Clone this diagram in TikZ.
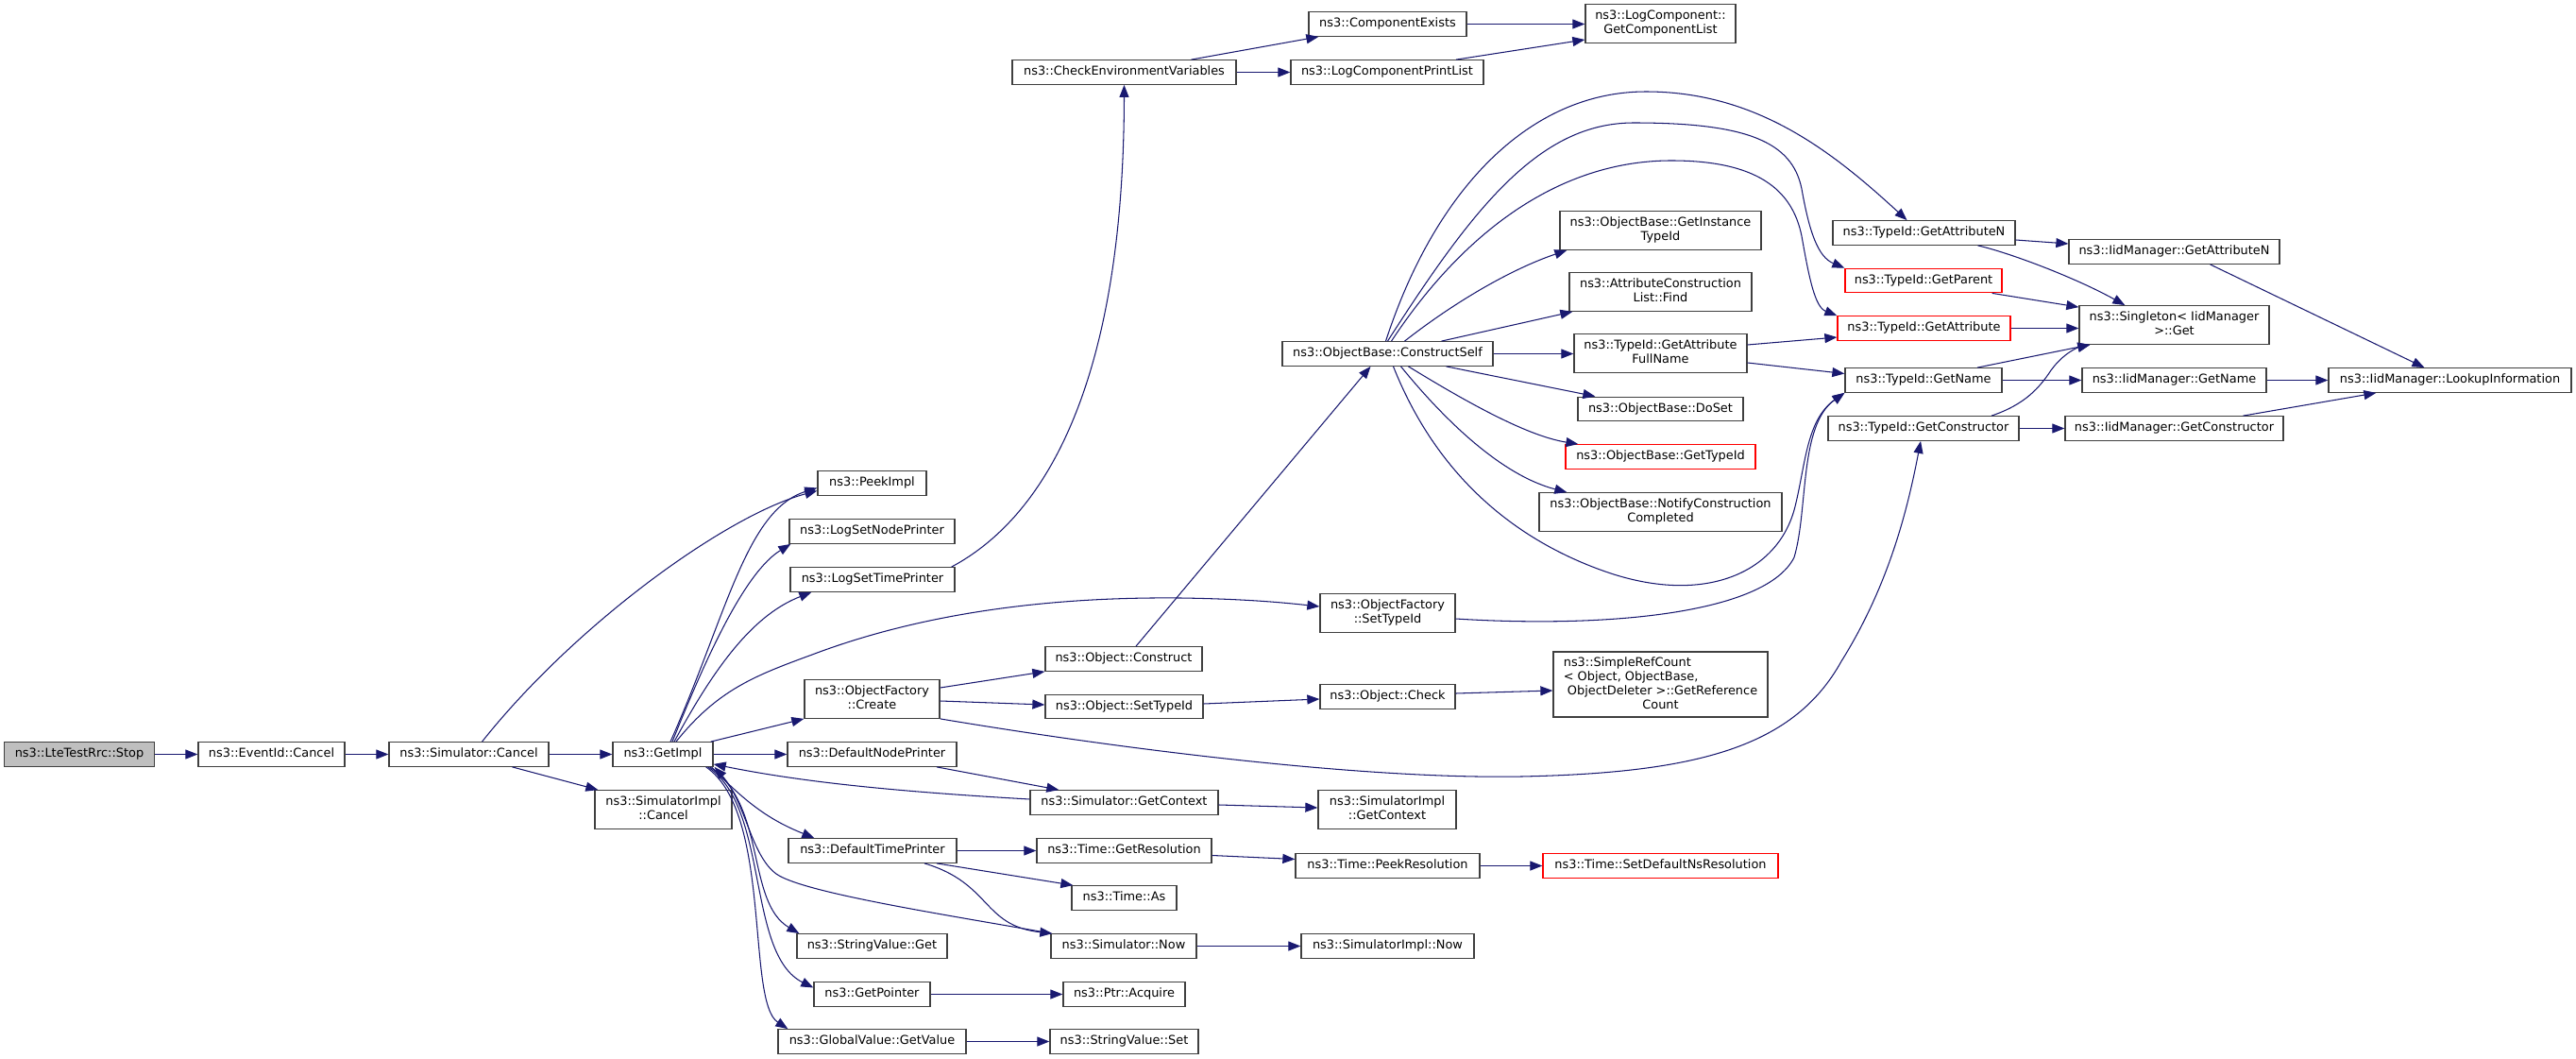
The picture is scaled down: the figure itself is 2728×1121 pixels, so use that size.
\documentclass[tikz,border=0pt]{standalone}
\usepackage{fontspec}
\setmainfont{DejaVu Sans}
\usetikzlibrary{arrows.meta}
\definecolor{edgec}{HTML}{191970}
\definecolor{boxc}{HTML}{404040}
\definecolor{stopfill}{HTML}{BFBFBF}
\begin{document}
\begin{tikzpicture}[x=1pt,y=-1pt,
  box/.style={draw=boxc, line width=1.3pt, fill=white, inner sep=0pt, minimum height=25.5pt, align=center,
    font={\fontsize{12.9pt}{15pt}\selectfont}, execute at begin node={\strut}, execute at end node={\strut}},
  tall/.style={minimum height=40.5pt},
  redbox/.style={draw=red},
  edge/.style={draw=edgec, line width=1.05pt, -{Triangle[length=13pt,width=10pt]}}]
\fill[white] (0,0) rectangle (2728,1121);
\useasboundingbox (0,0) rectangle (2728,1121);
% nodes
\node[box, minimum width=159pt, fill=stopfill] (stop) at (84,798.5) {ns3::LteTestRrc::Stop};
\node[box, minimum width=155pt] (evcancel) at (287.5,798.5) {ns3::EventId::Cancel};
\node[box, minimum width=169pt] (simcancel) at (496.5,798.5) {ns3::Simulator::Cancel};
\node[box, minimum width=106pt] (getimpl) at (702,798.5) {ns3::GetImpl};
\node[box, tall, minimum width=145pt] (simimplcancel) at (702.5,857) {ns3::SimulatorImpl\\::Cancel};
\node[box, minimum width=115pt] (peekimpl) at (923.5,511.5) {ns3::PeekImpl};
\node[box, minimum width=175pt] (logsetnode) at (923.5,562.5) {ns3::LogSetNodePrinter};
\node[box, minimum width=174pt] (logsettime) at (924,613.5) {ns3::LogSetTimePrinter};
\node[box, tall, minimum width=143pt] (ofcreate) at (923.5,740) {ns3::ObjectFactory\\::Create};
\node[box, minimum width=179pt] (defnode) at (923.5,798.5) {ns3::DefaultNodePrinter};
\node[box, minimum width=178pt] (deftime) at (924,900.5) {ns3::DefaultTimePrinter};
\node[box, minimum width=159pt] (svget) at (923.5,1001.5) {ns3::StringValue::Get};
\node[box, minimum width=123pt] (getpointer) at (923.5,1052.5) {ns3::GetPointer};
\node[box, minimum width=199pt] (gvgetvalue) at (923.5,1102.5) {ns3::GlobalValue::GetValue};
\node[box, minimum width=237pt] (checkenv) at (1190.5,76.5) {ns3::CheckEnvironmentVariables};
\node[box, minimum width=166pt] (objconstruct) at (1190,697.5) {ns3::Object::Construct};
\node[box, minimum width=167pt] (objsettypeid) at (1190.5,748) {ns3::Object::SetTypeId};
\node[box, minimum width=199pt] (simgetctx) at (1190.5,849.5) {ns3::Simulator::GetContext};
\node[box, minimum width=185pt] (timegetres) at (1190.5,900.5) {ns3::Time::GetResolution};
\node[box, minimum width=111pt] (timeas) at (1190.5,950.5) {ns3::Time::As};
\node[box, minimum width=154pt] (simnow) at (1190,1001.5) {ns3::Simulator::Now};
\node[box, minimum width=129pt] (ptracquire) at (1190.5,1052.5) {ns3::Ptr::Acquire};
\node[box, minimum width=157pt] (svset) at (1190.5,1102.5) {ns3::StringValue::Set};
\node[box, minimum width=167pt] (compexists) at (1469.5,25.5) {ns3::ComponentExists};
\node[box, minimum width=204pt] (logcompprint) at (1469,76.5) {ns3::LogComponentPrintList};
\node[box, minimum width=223pt] (constructself) at (1469.5,374.5) {ns3::ObjectBase::ConstructSelf};
\node[box, tall, minimum width=143pt] (ofsettypeid) at (1469.5,649) {ns3::ObjectFactory\\::SetTypeId};
\node[box, minimum width=143pt] (objcheck) at (1469.5,737.5) {ns3::Object::Check};
\node[box, tall, minimum width=146pt] (simimplgetctx) at (1469,857) {ns3::SimulatorImpl\\::GetContext};
\node[box, minimum width=195pt] (peekres) at (1469.5,916.5) {ns3::Time::PeekResolution};
\node[box, minimum width=183pt] (simimplnow) at (1469.5,1001.5) {ns3::SimulatorImpl::Now};
\node[box, tall, minimum width=159pt] (getcomplist) at (1758.5,25) {ns3::LogComponent::\\GetComponentList};
\node[box, tall, minimum width=213pt] (getinstance) at (1758.5,244) {ns3::ObjectBase::GetInstance\\TypeId};
\node[box, tall, minimum width=193pt] (acfind) at (1758.5,309) {ns3::AttributeConstruction\\List::Find};
\node[box, tall, minimum width=183pt] (getattrfull) at (1758.5,374) {ns3::TypeId::GetAttribute\\FullName};
\node[box, minimum width=175pt] (doset) at (1758.5,433) {ns3::ObjectBase::DoSet};
\node[box, redbox, minimum width=201pt] (obgettypeid) at (1758.5,483.5) {ns3::ObjectBase::GetTypeId};
\node[box, tall, minimum width=257pt] (notify) at (1758.5,542) {ns3::ObjectBase::NotifyConstruction\\Completed};
\node[box, minimum width=227pt, minimum height=69pt] (simpleref) at (1758.5,724.5)
  {\begin{tabular}{@{}l@{}}ns3::SimpleRefCount\\< Object, ObjectBase,\\\ ObjectDeleter >::GetReference\\\multicolumn{1}{@{}c@{}}{Count}\end{tabular}};
\node[box, redbox, minimum width=249pt] (setdefns) at (1758.5,916.5) {ns3::Time::SetDefaultNsResolution};
\node[box, minimum width=193pt] (tgetattrn) at (2037.5,246.5) {ns3::TypeId::GetAttributeN};
\node[box, redbox, minimum width=166pt] (tgetparent) at (2037,297) {ns3::TypeId::GetParent};
\node[box, redbox, minimum width=183pt] (tgetattr) at (2037.5,347.5) {ns3::TypeId::GetAttribute};
\node[box, minimum width=166pt] (tgetname) at (2037,402.5) {ns3::TypeId::GetName};
\node[box, minimum width=202pt] (tgetctor) at (2037,453.5) {ns3::TypeId::GetConstructor};
\node[box, minimum width=223pt] (iidgetattrn) at (2302.5,266.5) {ns3::IidManager::GetAttributeN};
\node[box, tall, minimum width=201pt] (singleton) at (2302.5,344) {ns3::Singleton< IidManager\\>::Get};
\node[box, minimum width=195pt] (iidgetname) at (2302.5,402.5) {ns3::IidManager::GetName};
\node[box, minimum width=231pt] (iidgetctor) at (2302.5,453.5) {ns3::IidManager::GetConstructor};
\node[box, minimum width=257pt] (lookup) at (2594.5,402.5) {ns3::IidManager::LookupInformation};
% edges: main chain
\draw[edge] (stop.east) -- (evcancel.west);
\draw[edge] (evcancel.east) -- (simcancel.west);
\draw[edge] (simcancel.east) -- (getimpl.west);
\draw[edge] ([xshift=46pt]simcancel.south) -- ([xshift=4pt]simimplcancel.north west);
\draw[edge] ([xshift=14pt]simcancel.north) .. controls (610,660) and (770,545) .. ([yshift=-8pt]peekimpl.west);
% GetImpl out
\draw[edge] ([xshift=8pt]getimpl.north) .. controls (770,650) and (790,540) .. ([yshift=-5pt]peekimpl.west);
\draw[edge] ([xshift=10pt]getimpl.north) .. controls (750,690) and (790,605) .. ([xshift=2pt]logsetnode.south west);
\draw[edge] ([xshift=12pt]getimpl.north) .. controls (760,700) and (800,650) .. ([xshift=23pt]logsettime.south west);
\draw[edge] ([xshift=14pt]getimpl.north) .. controls (760,730) and (800,715) .. (860,693) .. controls (1000,640) and (1150,632) .. (1250,633) .. controls (1320,634) and (1360,638) .. ([yshift=7pt]ofsettypeid.west);
\draw[edge] ([xshift=-3pt]getimpl.north east) -- (ofcreate.south west);
\draw[edge] (getimpl.east) -- (defnode.west);
\draw[edge] ([xshift=-2pt]getimpl.south east) .. controls (790,850) and (815,868) .. ([xshift=28pt]deftime.north west);
\draw[edge] ([xshift=-4pt]getimpl.south east) .. controls (812,852) and (790,955) .. ([xshift=3pt]svget.north west);
\draw[edge] ([xshift=-6pt]getimpl.south east) .. controls (815,855) and (790,1010) .. ([yshift=7pt]getpointer.west);
\draw[edge] ([xshift=-8pt]getimpl.south east) .. controls (818,860) and (790,1060) .. ([xshift=11pt]gvgetvalue.north west);
% back edges into GetImpl
\draw[edge] ([yshift=3.5pt]simgetctx.west) .. controls (950,838) and (850,828) .. ([yshift=3pt]getimpl.south east);
\draw[edge] ([xshift=1pt]simnow.north west) .. controls (1000,968) and (850,945) .. (822,925) .. controls (795,905) and (790,850) .. ([xshift=1pt]getimpl.south east);
% log components
\draw[edge] ([xshift=-4pt]logsettime.north east) .. controls (1120,540) and (1190,380) .. (checkenv.south);
\draw[edge] ([xshift=71pt]checkenv.north) -- ([xshift=11pt]compexists.south west);
\draw[edge] (checkenv.east) -- (logcompprint.west);
\draw[edge] (compexists.east) -- (compexists.east -| getcomplist.west);
\draw[edge] ([xshift=73pt]logcompprint.north) -- ([yshift=-17pt]getcomplist.west);
% object factory
\draw[edge] ([yshift=12pt]ofcreate.east) -- (objconstruct.south west);
\draw[edge] ([yshift=-2pt]ofcreate.east) -- ([yshift=2pt]objsettypeid.west);
\draw[edge] (ofcreate.south east) .. controls (1200,795) and (1450,825) .. (1611,822) .. controls (1800,818) and (1900,790) .. (1950,700) .. controls (2000,620) and (2020,540) .. ([xshift=-3pt]tgetctor.south);
\draw[edge] ([xshift=13pt]objconstruct.north) -- ([xshift=-18pt]constructself.south);
\draw[edge] ([yshift=3pt]objsettypeid.east) -- ([yshift=-2.5pt]objcheck.west);
\draw[edge] ([yshift=3.5pt]objcheck.east) -- ([yshift=-6.5pt]simpleref.west);
\draw[edge] ([yshift=-6pt]ofsettypeid.east) .. controls (1700,665) and (1870,650) .. (1900,590) .. controls (1915,540) and (1905,450) .. (tgetname.south west);
% printers and time
\draw[edge] ([xshift=68.5pt]defnode.south) -- ([xshift=31pt]simgetctx.north west);
\draw[edge] ([yshift=-2.5pt]simgetctx.east) -- ([yshift=2pt]simimplgetctx.west);
\draw[edge] (deftime.east) -- (timegetres.west);
\draw[edge] ([xshift=68pt]deftime.south) -- ([xshift=2pt]timeas.north west);
\draw[edge] ([xshift=55pt]deftime.south) .. controls (1050,935) and (1040,980) .. ([xshift=2pt]simnow.north west);
\draw[edge] ([yshift=-5pt]timegetres.east) -- ([yshift=7pt]peekres.west);
\draw[edge] (peekres.east) -- (setdefns.west);
\draw[edge] (simnow.east) -- (simimplnow.west);
\draw[edge] (getpointer.east) -- (ptracquire.west);
\draw[edge] (gvgetvalue.east) -- (svset.west);
% ConstructSelf fan
\draw[edge] ([xshift=-2pt]constructself.north) .. controls (1520,200) and (1620,97) .. (1743,97) .. controls (1860,97) and (1940,160) .. ([xshift=-18pt]tgetattrn.north);
\draw[edge] (constructself.north) .. controls (1560,220) and (1630,130) .. (1730,130) .. controls (1850,130) and (1898,150) .. (1908,200) .. controls (1916,245) and (1925,272) .. (tgetparent.north west);
\draw[edge] ([xshift=4pt]constructself.north) .. controls (1540,260) and (1640,170) .. (1770,170) .. controls (1860,170) and (1898,200) .. (1908,250) .. controls (1916,295) and (1922,325) .. (tgetattr.north west);
\draw[edge] ([xshift=18pt]constructself.north) .. controls (1540,320) and (1600,285) .. ([xshift=8pt]getinstance.south west);
\draw[edge] ([xshift=57pt]constructself.north) -- ([xshift=4pt]acfind.south west);
\draw[edge] (constructself.east) -- (constructself.east -| getattrfull.west);
\draw[edge] ([xshift=62pt]constructself.south) -- ([xshift=19pt]doset.north west);
\draw[edge] ([xshift=22pt]constructself.south) .. controls (1560,430) and (1620,462) .. ([xshift=14pt]obgettypeid.north west);
\draw[edge] ([xshift=14pt]constructself.south) .. controls (1530,445) and (1590,503) .. ([xshift=30pt]notify.north west);
\draw[edge] ([xshift=6pt]constructself.south) .. controls (1520,500) and (1600,570) .. (1700,605) .. controls (1800,640) and (1880,610) .. (1900,540) .. controls (1912,495) and (1912,445) .. (tgetname.south west);
% TypeId / IidManager
\draw[edge] ([yshift=9pt]getattrfull.east) -- ([yshift=-9.5pt]tgetattr.west);
\draw[edge] ([yshift=-10pt]getattrfull.east) -- ([yshift=7pt]tgetname.west);
\draw[edge] ([yshift=-7.5pt]tgetattrn.east) -- ([yshift=8.5pt]iidgetattrn.west);
\draw[edge] ([xshift=57pt]tgetattrn.south) .. controls (2130,268) and (2200,295) .. ([xshift=49pt]singleton.north west);
\draw[edge] ([xshift=-11pt]tgetparent.south east) -- ([yshift=-2pt]singleton.north west);
\draw[edge] (tgetattr.east) -- (tgetattr.east -| singleton.west);
\draw[edge] ([xshift=57pt]tgetname.north) -- ([xshift=12pt]singleton.south west);
\draw[edge] ([xshift=72pt]tgetctor.north) .. controls (2145,428) and (2160,410) .. (2172,392) .. controls (2185,374) and (2200,368) .. ([xshift=12pt]singleton.south west);
\draw[edge] (tgetname.east) -- (iidgetname.west);
\draw[edge] (tgetctor.east) -- (iidgetctor.west);
\draw[edge] ([xshift=38pt]iidgetattrn.south) -- ([xshift=-27pt]lookup.north);
\draw[edge] (iidgetname.east) -- (iidgetname.east -| lookup.west);
\draw[edge] ([xshift=73pt]iidgetctor.north) -- ([xshift=51pt]lookup.south west);
\end{tikzpicture}
\end{document}
